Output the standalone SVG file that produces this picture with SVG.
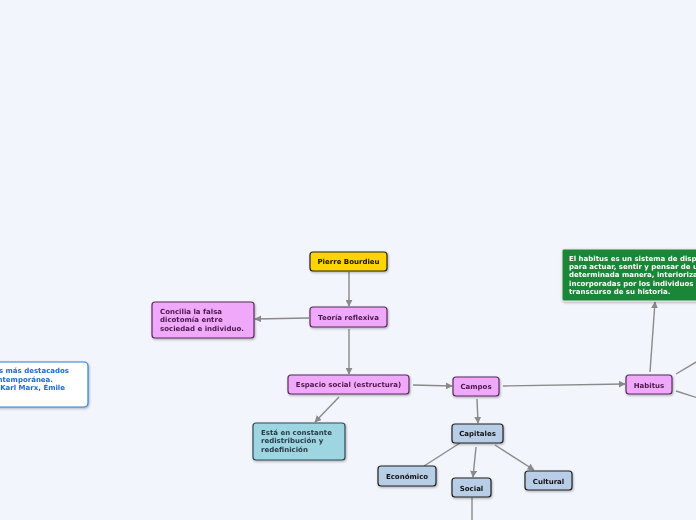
<svg xmlns="http://www.w3.org/2000/svg" width="696" height="520" viewBox="0 0 696 520">
<style>
text{font-family:"DejaVu Sans",Verdana,sans-serif;font-weight:bold;font-size:7px}
.c{text-anchor:middle}
.pink rect{fill:#f0a8fb;stroke:#5b2a5b;stroke-width:1.2}
.pink text{fill:#4a1848}
.blue rect{fill:#b8cde6;stroke:#222;stroke-width:1.2}
.blue text{fill:#111}
.edge{stroke:#8a8a8a;stroke-width:1.4;fill:none}
</style>
<defs>
<marker id="ah" viewBox="0 0 10 10" refX="9" refY="5" markerWidth="7" markerHeight="7" orient="auto" markerUnits="userSpaceOnUse"><path d="M0,0 L10,5 L0,10 z" fill="#8a8a8a"/></marker>
<filter id="sh" x="-10%" y="-10%" width="130%" height="140%"><feDropShadow dx="0.8" dy="1.2" stdDeviation="0.8" flood-color="#000" flood-opacity="0.3"/></filter>
</defs>
<rect width="696" height="520" fill="#f3f5fd"/>
<g id="connectors">
<line class="edge" x1="349" y1="272" x2="349" y2="306" marker-end="url(#ah)"/>
<line class="edge" x1="309" y1="318" x2="255" y2="319" marker-end="url(#ah)"/>
<line class="edge" x1="349" y1="329" x2="349" y2="374" marker-end="url(#ah)"/>
<line class="edge" x1="413" y1="385" x2="452" y2="386" marker-end="url(#ah)"/>
<line class="edge" x1="339" y1="397" x2="315" y2="422" marker-end="url(#ah)"/>
<line class="edge" x1="477" y1="399" x2="478" y2="423" marker-end="url(#ah)"/>
<line class="edge" x1="503" y1="386" x2="625" y2="384" marker-end="url(#ah)"/>
<line class="edge" x1="460" y1="443" x2="424" y2="466"/>
<line class="edge" x1="476" y1="447" x2="473" y2="477" marker-end="url(#ah)"/>
<line class="edge" x1="495" y1="445" x2="534" y2="470" marker-end="url(#ah)"/>
<line class="edge" x1="472" y1="498" x2="472" y2="520"/>
<line class="edge" x1="650" y1="372" x2="655" y2="302" marker-end="url(#ah)"/>
<line class="edge" x1="676" y1="374" x2="698" y2="361"/>
<line class="edge" x1="676" y1="391" x2="698" y2="398"/>
</g>
<g id="left-note" filter="url(#sh)">
<rect x="-40" y="362" width="128" height="45" rx="4" fill="#fff" stroke="#2a7de1" stroke-width="1.2"/>
<text x="69" y="373" fill="#1a6bd0" text-anchor="end">s más destacados</text>
<text x="53" y="381.5" fill="#1a6bd0" text-anchor="end">ntemporánea.</text>
<text x="65" y="390" fill="#1a6bd0" text-anchor="end">Karl Marx, Émile</text>
</g>
<g id="pierre" filter="url(#sh)">
<rect x="310" y="252" width="77" height="19" rx="3" fill="#ffd400" stroke="#222" stroke-width="1.2"/>
<text class="c" x="348.5" y="264" fill="#111">Pierre Bourdieu</text>
</g>
<g id="teoria" class="pink" filter="url(#sh)">
<rect x="310" y="307" width="77" height="20" rx="3"/>
<text class="c" x="348.5" y="319.5">Teoría reflexiva</text>
</g>
<g id="concilia" class="pink" filter="url(#sh)">
<rect x="152" y="302" width="102" height="36" rx="3"/>
<text x="160" y="314">Concilia la falsa</text>
<text x="160" y="322.3">dicotomía entre</text>
<text x="160" y="330.6">sociedad e individuo.</text>
</g>
<g id="espacio" class="pink" filter="url(#sh)">
<rect x="288" y="375" width="121" height="19" rx="3"/>
<text class="c" x="348.5" y="387">Espacio social (estructura)</text>
</g>
<g id="campos" class="pink" filter="url(#sh)">
<rect x="453" y="377" width="46" height="19" rx="3"/>
<text class="c" x="476" y="389">Campos</text>
</g>
<g id="esta" filter="url(#sh)">
<rect x="253" y="423" width="92" height="37" rx="3" fill="#9dd5e1" stroke="#2e4a55" stroke-width="1.2"/>
<text x="261" y="435" fill="#2a3a48">Está en constante</text>
<text x="261" y="443.4" fill="#2a3a48">redistribución y</text>
<text x="261" y="451.8" fill="#2a3a48">redefinición</text>
</g>
<g id="capitales" class="blue" filter="url(#sh)">
<rect x="452" y="424" width="51" height="19" rx="3"/>
<text class="c" x="477.5" y="436">Capitales</text>
</g>
<g id="economico" class="blue" filter="url(#sh)">
<rect x="378" y="466" width="58" height="20" rx="3"/>
<text class="c" x="407" y="478.5">Económico</text>
</g>
<g id="social" class="blue" filter="url(#sh)">
<rect x="452" y="478" width="39" height="19" rx="3"/>
<text class="c" x="471.5" y="490.5">Social</text>
</g>
<g id="cultural" class="blue" filter="url(#sh)">
<rect x="525" y="471" width="47" height="19" rx="3"/>
<text class="c" x="548.5" y="483.5">Cultural</text>
</g>
<g id="habitus" class="pink" filter="url(#sh)">
<rect x="626" y="375" width="46" height="19" rx="3"/>
<text class="c" x="649" y="387.5">Habitus</text>
</g>
<g id="habitus-def" filter="url(#sh)">
<rect x="562" y="249" width="150" height="52" rx="2" fill="#1c8637" stroke="#e8e8e8" stroke-width="1"/>
<text x="569" y="260.5" fill="#fff">El habitus es un sistema de disp</text>
<text x="569" y="268.9" fill="#fff">para actuar, sentir y pensar de u</text>
<text x="569" y="277.3" fill="#fff">determinada manera, interioriza</text>
<text x="569" y="285.7" fill="#fff">incorporadas por los individuos</text>
<text x="569" y="294.1" fill="#fff">transcurso de su historia.</text>
</g>
</svg>
